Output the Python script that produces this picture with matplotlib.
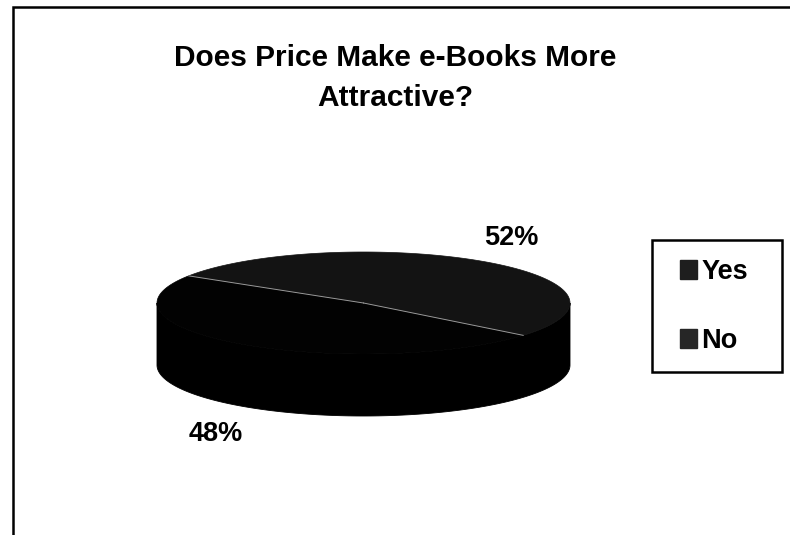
import numpy as np
import matplotlib
matplotlib.use("Agg")
import matplotlib.pyplot as plt
from matplotlib.patches import Polygon, Patch, Rectangle

# ---- data ----
categories = ["Yes", "No"]
values = [52, 48]
value_labels = ["52%", "48%"]
title = "Does Price Make e-Books More\nAttractive?"

top_colors = ["#131313", "#020202"]
side_colors = ["#000000", "#000000"]
legend_colors = ["#1e1e1e", "#262626"]

plt.rcParams['font.family'] = ['Liberation Sans', 'DejaVu Sans']

W, H = 790, 535
fig = plt.figure(figsize=(W / 100, H / 100), dpi=100)
ax = fig.add_axes([0, 0, 1, 1])
ax.set_xlim(0, W)
ax.set_ylim(H, 0)
ax.axis("off")

# chart border (top and left visible; rest cut off by the scan)
ax.plot([13, 13, W], [H, 7, 7], color="black", lw=1.8, solid_joinstyle="miter")

# 3D pie geometry (pixel space)
cx, cy, a, b, depth = 363.5, 303, 206.5, 51, 62
start = -39.35  # degrees, counter-clockwise

def pt(t_deg, dy=0.0):
    t = np.radians(t_deg)
    return cx + a * np.cos(t), cy - b * np.sin(t) + dy

total = float(sum(values))
angles = [start]
for v in values:
    angles.append(angles[-1] + 360.0 * v / total)

# side wall: visible front half (180..360 deg), drawn as one dark band
ts = np.linspace(180, 360, 240)
upper = [pt(t) for t in ts]
lower = [pt(t, depth) for t in ts[::-1]]
ax.add_patch(Polygon(upper + lower, closed=True, facecolor=side_colors[0],
                     edgecolor=side_colors[0], lw=0.6, zorder=2))

# top faces
for i in range(len(values)):
    ts = np.linspace(angles[i], angles[i + 1], 200)
    verts = [(cx, cy)] + [pt(t) for t in ts]
    ax.add_patch(Polygon(verts, closed=True, facecolor=top_colors[i],
                         edgecolor=top_colors[i], lw=0.5, zorder=3))

# divider radii (light seam)
for t in angles[:-1]:
    x, y = pt(t)
    ax.plot([cx, x], [cy, y], color="#9a9a9a", lw=0.7, zorder=4)

# value labels
label_pos = [(511, 238), (216, 434)]
for (lx, ly), txt in zip(label_pos, value_labels):
    ax.text(lx, ly, txt, fontsize=19.5, fontweight="bold", ha="center", va="center")

# title
ax.text(395, 78, title, fontsize=21.5, fontweight="bold", ha="center", va="center",
        linespacing=1.5)

# legend box
ax.add_patch(Rectangle((652, 240), 130, 132, facecolor="white", edgecolor="black",
                       lw=1.8, zorder=5))
handles = [Patch(facecolor=legend_colors[i], edgecolor=legend_colors[i],
                 label=categories[i]) for i in range(len(categories))]
leg = ax.legend(handles=handles, loc="center", bbox_to_anchor=(714 / W, 1 - 306.5 / H),
                bbox_transform=fig.transFigure, frameon=False,
                prop={"family": "Liberation Sans", "weight": "bold", "size": 19.5},
                handlelength=0.65, handleheight=0.72, handletextpad=0.15,
                labelspacing=1.6, borderpad=0.2, borderaxespad=0)
leg.set_zorder(6)

fig.savefig("out.png", dpi=100, facecolor="white")
